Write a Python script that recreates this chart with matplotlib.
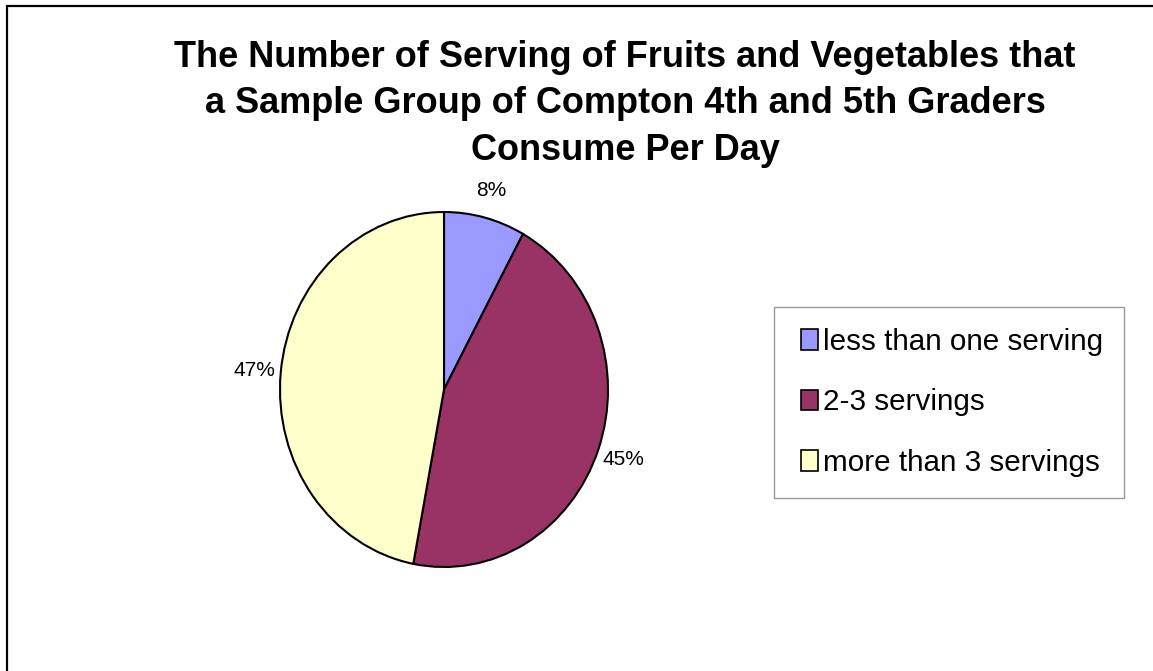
import matplotlib
matplotlib.use("Agg")
import matplotlib.pyplot as plt
from matplotlib.patches import Rectangle, Patch
from matplotlib.legend_handler import HandlerPatch

plt.rcParams['font.family'] = ['Liberation Sans', 'DejaVu Sans']

title = ("The Number of Serving of Fruits and Vegetables that\n"
         "a Sample Group of Compton 4th and 5th Graders\n"
         "Consume Per Day")
categories = ["less than one serving", "2-3 servings", "more than 3 servings"]
values = [8, 45, 47]
colors = ["#9999FF", "#993366", "#FFFFCC"]

W, H = 1153, 671
fig = plt.figure(figsize=(W / 100, H / 100), dpi=100)
fig.patch.set_facecolor("white")

# outer frame (left and top visible)
fig.patches.append(Rectangle((6.5 / W, -0.5), 3.0, 1.5 - 6.0 / H,
                             transform=fig.transFigure, fill=False,
                             edgecolor="black", linewidth=1.6, zorder=0))

fig.text(625 / W, 1 - 40 / H, title, ha="center", va="top", fontsize=26,
         fontweight="bold", linespacing=1.42)

ax = fig.add_axes([280 / W, (H - 567) / H, 328 / W, 355 / H])
wedges, texts, autotexts = ax.pie(
    values, colors=colors, startangle=90, counterclock=False,
    autopct="%1.0f%%", pctdistance=1.16,
    wedgeprops=dict(edgecolor="black", linewidth=1.5),
    textprops=dict(fontsize=15, color="black"))
ax.set_aspect("auto")
ax.set_xlim(-1, 1)
ax.set_ylim(-1, 1)
ax.axis("off")


def square_right(legend, orig_handle, xdescent, ydescent, width, height, fontsize):
    side = height
    return Rectangle((-xdescent + width - side * 0.85, -ydescent), side * 0.85, side)


handles = [Patch(facecolor=c, edgecolor="black", linewidth=1.2) for c in colors]
leg = fig.legend(handles, categories, loc="upper left",
                 bbox_to_anchor=(774 / W, 1 - 307 / H), borderaxespad=0,
                 fontsize=21.3, frameon=True, fancybox=False, edgecolor="#808080",
                 handlelength=0.78, handleheight=0.68, handletextpad=0.17,
                 labelspacing=1.1, borderpad=0.7,
                 handler_map={Patch: HandlerPatch(patch_func=square_right)})
leg.get_frame().set_linewidth(1.0)

fig.savefig("out.png", dpi=100)
